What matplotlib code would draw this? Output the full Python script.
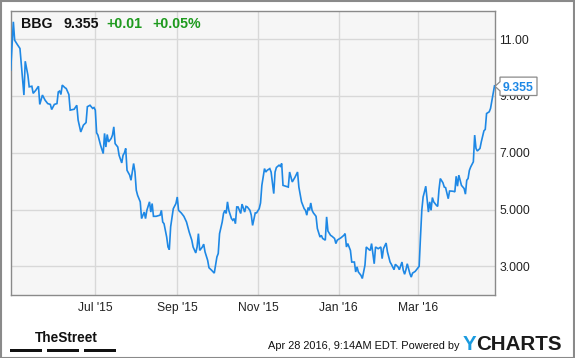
import matplotlib
matplotlib.use("Agg")
import matplotlib.pyplot as plt
import matplotlib.transforms as mtransforms
from matplotlib.patches import Rectangle, Polygon
import pandas as pd

# ---------------- data ----------------
ticker = "BBG"
last_price = "9.355"
change_abs = "+0.01"
change_pct = "+0.05%"

dates = [
    "2015-04-28", "2015-04-30", "2015-05-01", "2015-05-03", "2015-05-05", "2015-05-08", "2015-05-09",
    "2015-05-11", "2015-05-12", "2015-05-14", "2015-05-15", "2015-05-17", "2015-05-19", "2015-05-20",
    "2015-05-22", "2015-05-24", "2015-05-26", "2015-05-28", "2015-05-29", "2015-05-31",
    "2015-06-02", "2015-06-03", "2015-06-04", "2015-06-05", "2015-06-06", "2015-06-08", "2015-06-09",
    "2015-06-11", "2015-06-12", "2015-06-15", "2015-06-17", "2015-06-18", "2015-06-20", "2015-06-22",
    "2015-06-24", "2015-06-25", "2015-06-27", "2015-06-29", "2015-06-30",
    "2015-07-01", "2015-07-02", "2015-07-03", "2015-07-05", "2015-07-07", "2015-07-08", "2015-07-09",
    "2015-07-10", "2015-07-11", "2015-07-13", "2015-07-14", "2015-07-15", "2015-07-16", "2015-07-18",
    "2015-07-19", "2015-07-21", "2015-07-22", "2015-07-23", "2015-07-24", "2015-07-25", "2015-07-27",
    "2015-07-28", "2015-07-30", "2015-07-31",
    "2015-08-01", "2015-08-02", "2015-08-04", "2015-08-05", "2015-08-07", "2015-08-08", "2015-08-09",
    "2015-08-11", "2015-08-12", "2015-08-13", "2015-08-14", "2015-08-16", "2015-08-19", "2015-08-20",
    "2015-08-21", "2015-08-22", "2015-08-24", "2015-08-25", "2015-08-26", "2015-08-27", "2015-08-29",
    "2015-08-31",
    "2015-09-01", "2015-09-02", "2015-09-04", "2015-09-06", "2015-09-08", "2015-09-10", "2015-09-12",
    "2015-09-13", "2015-09-15", "2015-09-16", "2015-09-17", "2015-09-18", "2015-09-20", "2015-09-21",
    "2015-09-22", "2015-09-24", "2015-09-25", "2015-09-27", "2015-09-29", "2015-09-30",
    "2015-10-01", "2015-10-02", "2015-10-03", "2015-10-05", "2015-10-06", "2015-10-07", "2015-10-08",
    "2015-10-09", "2015-10-10", "2015-10-12", "2015-10-13", "2015-10-14", "2015-10-15", "2015-10-16",
    "2015-10-17", "2015-10-19", "2015-10-20", "2015-10-22", "2015-10-23", "2015-10-24", "2015-10-26",
    "2015-10-27", "2015-10-28", "2015-10-30", "2015-10-31",
    "2015-11-02", "2015-11-03", "2015-11-04", "2015-11-06", "2015-11-07", "2015-11-08", "2015-11-10",
    "2015-11-11", "2015-11-13", "2015-11-14", "2015-11-15", "2015-11-17", "2015-11-18", "2015-11-19",
    "2015-11-20", "2015-11-22", "2015-11-24", "2015-11-25", "2015-11-27", "2015-11-29",
    "2015-12-01", "2015-12-02", "2015-12-04", "2015-12-06", "2015-12-07", "2015-12-08", "2015-12-09",
    "2015-12-10", "2015-12-11", "2015-12-12", "2015-12-13", "2015-12-15", "2015-12-16", "2015-12-18",
    "2015-12-19", "2015-12-20", "2015-12-22", "2015-12-23", "2015-12-24", "2015-12-26", "2015-12-27",
    "2015-12-29", "2015-12-30", "2015-12-31",
    "2016-01-03", "2016-01-05", "2016-01-06", "2016-01-07", "2016-01-08", "2016-01-10", "2016-01-11",
    "2016-01-13", "2016-01-14", "2016-01-15", "2016-01-16", "2016-01-18", "2016-01-19", "2016-01-21",
    "2016-01-22", "2016-01-24", "2016-01-25", "2016-01-26", "2016-01-28", "2016-01-29", "2016-01-31",
    "2016-02-02", "2016-02-03", "2016-02-04", "2016-02-06", "2016-02-07", "2016-02-09", "2016-02-10",
    "2016-02-12", "2016-02-13", "2016-02-15", "2016-02-16", "2016-02-18", "2016-02-19", "2016-02-20",
    "2016-02-21", "2016-02-22", "2016-02-24", "2016-02-25", "2016-02-26", "2016-02-28", "2016-02-29",
    "2016-03-02", "2016-03-03", "2016-03-04", "2016-03-05", "2016-03-06", "2016-03-07", "2016-03-09",
    "2016-03-10", "2016-03-11", "2016-03-12", "2016-03-13", "2016-03-15", "2016-03-16", "2016-03-17",
    "2016-03-18", "2016-03-20", "2016-03-21", "2016-03-22", "2016-03-24", "2016-03-25", "2016-03-26",
    "2016-03-28", "2016-03-29", "2016-03-30", "2016-03-31",
    "2016-04-01", "2016-04-02", "2016-04-03", "2016-04-05", "2016-04-06", "2016-04-07", "2016-04-08",
    "2016-04-09", "2016-04-10", "2016-04-12", "2016-04-13", "2016-04-14", "2016-04-15", "2016-04-17",
    "2016-04-18", "2016-04-20", "2016-04-21", "2016-04-22", "2016-04-24", "2016-04-25", "2016-04-27",
    "2016-04-28",
]

prices = [
    9.91, 11.61, 10.96, 10.81, 10.67, 9.03, 10.22, 9.73, 9.32, 9.34, 9.09, 9.20, 9.34, 8.70,
    9.03, 8.85, 8.73, 8.70, 8.52, 8.70,
    8.73, 9.14, 9.17, 9.05, 9.38, 9.29, 9.26, 9.05, 8.50, 8.53, 8.67, 8.15, 7.73, 7.97,
    8.06, 8.62, 8.67, 8.56, 8.59,
    8.50, 7.70, 7.62, 7.26, 6.97, 7.68, 7.20, 7.64, 7.38, 7.50, 7.62, 7.91, 7.32, 7.20,
    6.91, 6.64, 6.91, 6.99, 7.15, 6.38, 6.21, 6.03, 6.62, 6.32,
    5.68, 5.50, 5.27, 4.68, 4.91, 4.68, 4.97, 5.27, 4.91, 5.21, 4.76, 4.76, 4.80, 4.97,
    4.56, 4.50, 4.03, 3.68, 3.59, 4.39, 5.03, 5.21,
    5.44, 4.97, 4.88, 4.76, 4.56, 4.21, 3.92, 3.68, 3.47, 3.68, 4.15, 3.56, 3.68, 3.78,
    3.51, 3.21, 2.95, 2.86, 2.76, 3.04,
    3.33, 3.45, 4.15, 4.56, 4.86, 4.97, 4.86, 5.27, 4.97, 4.68, 4.62, 4.68, 4.50, 5.09,
    5.09, 4.86, 5.19, 4.91, 5.11, 5.09, 4.97, 4.80, 4.44, 4.88, 4.88,
    5.03, 5.23, 5.85, 6.44, 6.32, 6.38, 6.44, 6.32, 5.56, 6.32, 6.48, 6.56, 6.52, 6.62,
    5.85, 5.82, 5.79, 6.32, 5.97, 6.13,
    6.32, 5.79, 5.27, 5.03, 4.97, 4.80, 5.07, 4.97, 5.23, 4.97, 4.88, 4.76, 4.33, 4.03,
    4.09, 3.98, 3.92, 4.74, 4.24, 4.09, 4.06, 3.98, 3.80, 3.92,
    4.01, 4.09, 4.15, 3.68, 3.80, 3.56, 3.15, 3.15, 2.80, 2.98, 2.80, 2.68, 2.57, 3.04,
    3.68, 3.59, 3.56, 3.80, 3.09, 3.68, 3.62,
    3.68, 3.27, 3.62, 3.82, 3.51, 3.15, 3.07, 2.88, 3.07, 2.98, 2.88, 3.15, 2.86, 2.72,
    2.88, 3.09, 2.74, 2.62, 2.76, 2.82, 2.88,
    3.00, 4.03, 4.97, 5.44, 5.62, 5.82, 4.91, 5.27, 4.97, 5.42, 5.27, 5.15, 5.11, 5.70,
    6.09, 5.94, 5.79, 5.77, 5.38, 5.65, 5.65, 5.64, 5.62, 6.17, 5.82,
    6.21, 6.03, 5.85, 5.74, 5.54, 6.03, 6.09, 6.38, 6.50, 6.68, 7.62, 7.15, 7.06, 7.15,
    7.38, 7.77, 7.82, 8.38, 8.44, 8.56, 9.09, 9.355,
]

x_start = "2015-04-28"
x_end = "2016-04-28"
xtick_dates = ["2015-07-01", "2015-09-01", "2015-11-01", "2016-01-01", "2016-03-01"]
xtick_labels = ["Jul '15", "Sep '15", "Nov '15", "Jan '16", "Mar '16"]
ytick_values = [3, 5, 7, 9, 11]
ytick_labels = ["3.000", "5.000", "7.000", "9.000", "11.00"]
y_min, y_max = 2, 12

timestamp_text = "Apr 28 2016, 9:14AM EDT. Powered by"

# ---------------- figure ----------------
W, H = 575, 358
FONT = ["Liberation Sans", "DejaVu Sans"]
plt.rcParams["font.family"] = FONT

fig = plt.figure(figsize=(W / 100, H / 100), dpi=100)
fig.patch.set_facecolor("white")


def fx(px):
    return px / W


def fy(py):
    return 1 - py / H


ax_l, ax_r, ax_t, ax_b = 10.7, 494.5, 10.7, 294.7
ax = fig.add_axes([fx(ax_l), fy(ax_b), (ax_r - ax_l) / W, (ax_b - ax_t) / H])
ax.set_facecolor("#f6f6f6")

x = pd.to_datetime(dates)
line_color = "#1e88e5"
ax.plot(x, prices, color=line_color, lw=1.2, solid_joinstyle="miter", zorder=3)

ax.set_xlim(pd.Timestamp(x_start), pd.Timestamp(x_end))
ax.set_ylim(y_min, y_max)
ax.set_yticks(ytick_values)
ax.set_yticklabels(ytick_labels)
ax.yaxis.tick_right()
ax.set_xticks(pd.to_datetime(xtick_dates))
ax.set_xticklabels(xtick_labels)
ax.grid(True, color="#d8d8d8", lw=1.0, zorder=0)
ax.set_axisbelow(True)
ax.tick_params(axis="both", length=0, labelsize=8.7, colors="#222222")
ax.tick_params(axis="y", pad=3.6)
ax.tick_params(axis="x", pad=5.5)
for s in ax.spines.values():
    s.set_color("#8a8a8a")
    s.set_linewidth(1.0)

# ---------------- header text inside plot ----------------
base = fy(28.3)
fig.text(fx(21.3), base, ticker, fontsize=10.2, fontweight="bold", color="#111111", va="baseline")
fig.text(fx(63.0), base, last_price, fontsize=10.2, fontweight="bold", color="#111111", va="baseline")
green = "#1e9a1e"
fig.text(fx(106.7), base, change_abs, fontsize=10.2, fontweight="bold", color=green, va="baseline")
fig.text(fx(152.3), base, change_pct, fontsize=10.2, fontweight="bold", color=green, va="baseline")

# ---------------- last price callout ----------------
tip = ax.transData.transform((matplotlib.dates.date2num(x[-1]), prices[-1]))
tx, ty = tip[0] + 0.5, tip[1] - 0.5
bw, bh, notch = 37.0, 18.4, 5.0
poly = Polygon(
    [(tx, ty), (tx + notch, ty + 4.6), (tx + notch, ty + bh / 2), (tx + notch + bw, ty + bh / 2),
     (tx + notch + bw, ty - bh / 2), (tx + notch, ty - bh / 2), (tx + notch, ty - 4.6)],
    closed=True, facecolor="white", edgecolor="#8a8a8a", lw=0.9,
    transform=mtransforms.IdentityTransform(), zorder=10)
fig.patches.append(poly)
fig.text(tx + notch + bw / 2, ty, last_price, fontsize=8.8, fontweight="bold", color=line_color,
         ha="center", va="center_baseline", transform=mtransforms.IdentityTransform(), zorder=11)

# ---------------- footer ----------------
fig.text(fx(35), fy(342.0), "TheStreet", fontsize=9.8, fontweight="bold", color="#111111",
         family=["Liberation Sans Narrow", "Liberation Sans", "DejaVu Sans"], va="baseline")
for bx0, bx1 in [(10, 42), (47, 79), (84, 116)]:
    fig.patches.append(Rectangle((fx(bx0), fy(352.0)), (bx1 - bx0) / W, 3.3 / H,
                                 transform=fig.transFigure, facecolor="#111111", edgecolor="none"))

fig.text(fx(459.5), fy(349.0), timestamp_text, fontsize=7.9, color="#111111", ha="right", va="baseline")

renderer = fig.canvas.get_renderer()
ty_txt = fig.text(fx(463), fy(350.0), "Y", fontsize=14.8, fontweight="bold", color="#1a9be0", va="baseline")
bb = ty_txt.get_window_extent(renderer=renderer)
fig.text(bb.x1 / W, fy(350.0), "CHARTS", fontsize=14.8, fontweight="bold", color="#1b1b1b", va="baseline")

# outer border
fig.patches.append(Rectangle((0.5 / W, 0.5 / H), (W - 1.5) / W, (H - 1.5) / H, transform=fig.transFigure,
                             facecolor="none", edgecolor="#8a8a8a", lw=1.5))

fig.savefig("out.png", dpi=100, facecolor="white")
